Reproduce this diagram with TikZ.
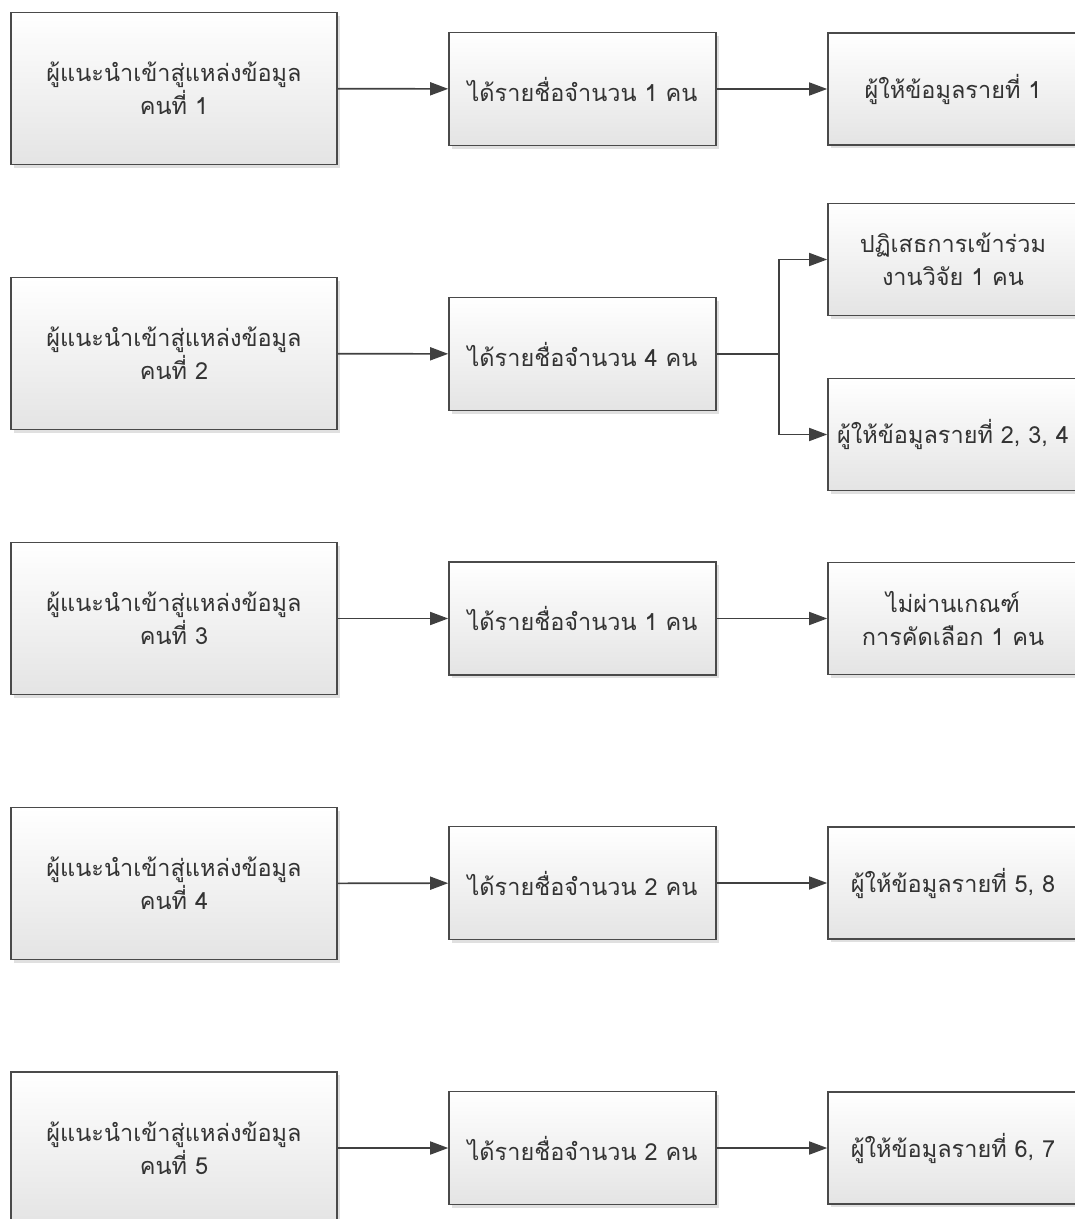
\documentclass[tikz,border=0pt]{standalone}
\usepackage{fontspec}
\newfontfamily\thaifont[Script=Thai]{Loma}
\usetikzlibrary{arrows.meta,shadows}
\definecolor{boxline}{HTML}{4A4A4A}
\definecolor{boxbot}{HTML}{E4E4E4}
\definecolor{linec}{HTML}{404040}
\begin{document}
\begin{tikzpicture}[x=1pt,y=-1pt,
  box/.style={draw=boxline, line width=1.6pt, top color=white, bottom color=boxbot,
    general shadow={fill=black, opacity=0.12, shadow xshift=3pt, shadow yshift=-3pt},
    inner sep=5pt, font=\thaifont\fontsize{23.5}{33}\selectfont, text=black!80, align=center},
  lbox/.style={box, minimum width=326pt, minimum height=152pt},
  mbox/.style={box, minimum width=267pt, minimum height=113pt},
  rbox/.style={box, minimum width=250pt, minimum height=112pt, text width=240pt},
  conn/.style={draw=linec, line width=1.6pt, -{Triangle[length=18pt,width=13pt]}},
  plain/.style={draw=linec, line width=1.6pt}]
\useasboundingbox (0,0) rectangle (1075,1219);
\clip (0,0) rectangle (1075,1219);
% row 1
\node[lbox] (l1) at (174,88.5) {ผู้แนะนำเข้าสู่แหล่งข้อมูล\\คนที่ 1};
\node[mbox] (m1) at (582.5,89) {ได้รายชื่อจำนวน 1 คน};
\node[rbox] (r1) at (953,89) {ผู้ให้ข้อมูลรายที่ 1};
\draw[conn] (l1) -- (m1);
\draw[conn] (m1) -- (r1);
% row 2
\node[lbox] (l2) at (174,353.5) {ผู้แนะนำเข้าสู่แหล่งข้อมูล\\คนที่ 2};
\node[mbox] (m2) at (582.5,354) {ได้รายชื่อจำนวน 4 คน};
\node[rbox] (r2a) at (953,259.5) {ปฏิเสธการเข้าร่วม\\งานวิจัย 1 คน};
\node[rbox] (r2b) at (953,434.5) {\mbox{ผู้ให้ข้อมูลรายที่ 2, 3, 4}};
\coordinate (b2) at (779,354);
\draw[conn] (l2) -- (m2);
\draw[plain] (m2.east) -- (b2);
\draw[conn] (b2) |- (r2a);
\draw[conn] (b2) |- (r2b);
% row 3
\node[lbox] (l3) at (174,618.5) {ผู้แนะนำเข้าสู่แหล่งข้อมูล\\คนที่ 3};
\node[mbox] (m3) at (582.5,618.5) {ได้รายชื่อจำนวน 1 คน};
\node[rbox] (r3) at (953,618.5) {ไม่ผ่านเกณฑ์\\การคัดเลือก 1 คน};
\draw[conn] (l3) -- (m3);
\draw[conn] (m3) -- (r3);
% row 4
\node[lbox] (l4) at (174,883.5) {ผู้แนะนำเข้าสู่แหล่งข้อมูล\\คนที่ 4};
\node[mbox] (m4) at (582.5,883) {ได้รายชื่อจำนวน 2 คน};
\node[rbox] (r4) at (953,883) {ผู้ให้ข้อมูลรายที่ 5, 8};
\draw[conn] (l4) -- (m4);
\draw[conn] (m4) -- (r4);
% row 5
\node[lbox] (l5) at (174,1148) {ผู้แนะนำเข้าสู่แหล่งข้อมูล\\คนที่ 5};
\node[mbox] (m5) at (582.5,1148) {ได้รายชื่อจำนวน 2 คน};
\node[rbox] (r5) at (953,1148) {ผู้ให้ข้อมูลรายที่ 6, 7};
\draw[conn] (l5) -- (m5);
\draw[conn] (m5) -- (r5);
\end{tikzpicture}
\end{document}
